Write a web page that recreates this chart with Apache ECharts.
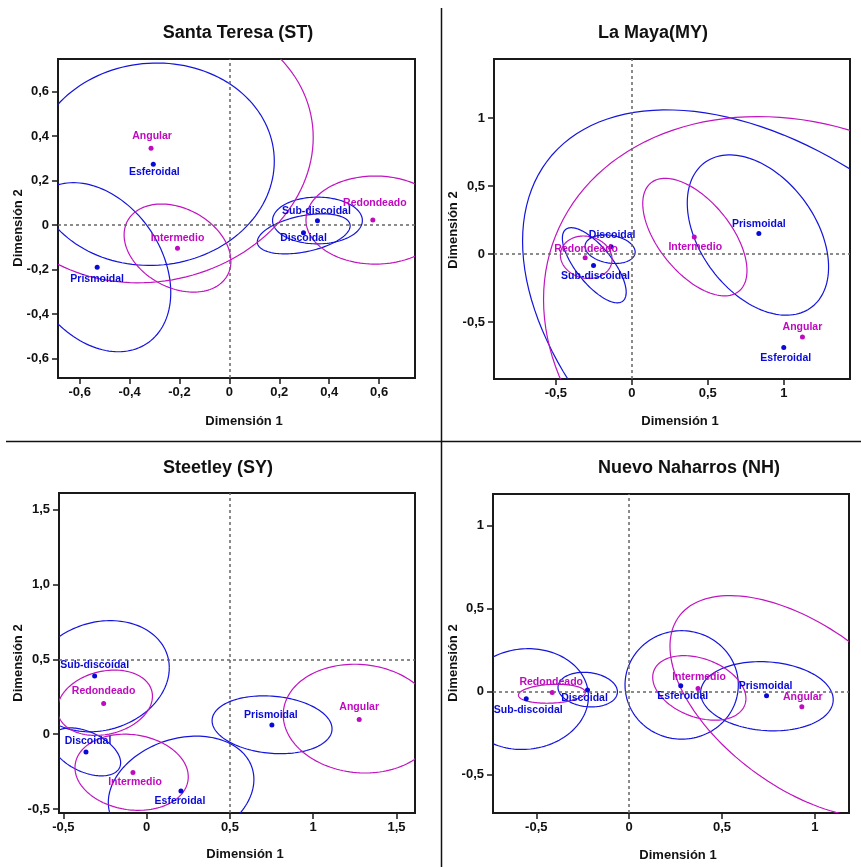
<!DOCTYPE html>
<html>
<head>
<meta charset="utf-8">
<script src="https://cdn.jsdelivr.net/npm/echarts@6/dist/echarts.min.js"></script>
<style>
  html, body { margin: 0; padding: 0; background: #fff; }
  #chart { width: 861px; height: 867px; }
</style>
</head>
<body>
<div id="chart"></div>
<script>
// categorías de forma (azul); las de redondez van en magenta
const blueNames = ['Esferoidal', 'Prismoidal', 'Sub-discoidal', 'Discoidal'];

// Santa Teresa (ST)
const stNames = ['Angular', 'Esferoidal', 'Intermedio', 'Prismoidal', 'Sub-discoidal', 'Discoidal', 'Redondeado'];
const stX = [-0.314, -0.305, -0.208, -0.530, 0.353, 0.297, 0.575];
const stY = [0.345, 0.273, -0.105, -0.190, 0.019, -0.035, 0.022];
// elipses: centro x, centro y, semiancho, semialto, inclinación
const stEll = [
    [-0.314, 0.345, 0.65, 0.605, 0.08],
    [-0.305, 0.273, 0.485, 0.455, 0.03],
    [-0.208, -0.104, 0.214, 0.198, -0.3],
    [-0.535, -0.19, 0.30, 0.38, -0.3],
    [0.353, 0.02, 0.18, 0.105, 0.0],
    [0.298, -0.04, 0.186, 0.09, 0.4],
    [0.585, 0.022, 0.278, 0.198, 0.0]
];

// La Maya (MY)
const myNames = ['Prismoidal', 'Intermedio', 'Angular', 'Esferoidal', 'Discoidal', 'Redondeado', 'Sub-discoidal'];
const myX = [0.836, 0.411, 1.123, 1.0, -0.136, -0.307, -0.252];
const myY = [0.152, 0.125, -0.609, -0.687, 0.054, -0.027, -0.083];
const myEll = [
    [0.83, 0.14, 0.465, 0.589, -0.4],
    [0.415, 0.125, 0.343, 0.432, -0.57],
    [1.123, -0.609, 1.704, 1.62, -0.17],
    [1.0, -0.687, 1.719, 1.747, -0.448],
    [-0.143, 0.036, 0.165, 0.105, -0.2],
    [-0.30, -0.023, 0.17, 0.156, -0.1],
    [-0.247, -0.082, 0.21, 0.276, -0.72]
];

// Steetley (SY)
const syNames = ['Sub-discoidal', 'Redondeado', 'Discoidal', 'Intermedio', 'Esferoidal', 'Prismoidal', 'Angular'];
const syX = [-0.312, -0.258, -0.364, -0.082, 0.206, 0.752, 1.276];
const syY = [0.388, 0.205, -0.118, -0.256, -0.379, 0.062, 0.098];
const syEll = [
    [-0.28, 0.387, 0.416, 0.371, 0.15],
    [-0.25, 0.21, 0.285, 0.218, 0.2],
    [-0.364, -0.118, 0.208, 0.16, -0.45],
    [-0.09, -0.254, 0.34, 0.254, -0.12],
    [0.207, -0.379, 0.437, 0.366, 0.21],
    [0.753, 0.063, 0.36, 0.193, -0.14],
    [1.28, 0.104, 0.46, 0.363, -0.07]
];

// Nuevo Naharros (NH)
const nhNames = ['Sub-discoidal', 'Redondeado', 'Discoidal', 'Esferoidal', 'Intermedio', 'Prismoidal', 'Angular'];
const nhX = [-0.554, -0.414, -0.224, 0.278, 0.371, 0.74, 0.93];
const nhY = [-0.042, -0.004, 0.01, 0.036, 0.02, -0.024, -0.09];
const nhEll = [
    [-0.56, -0.044, 0.341, 0.303, 0.05],
    [-0.416, -0.012, 0.18, 0.057, 0.15],
    [-0.223, 0.013, 0.16, 0.104, -0.13],
    [0.283, 0.041, 0.305, 0.326, 0.0],
    [0.378, 0.023, 0.251, 0.194, -0.33],
    [0.742, -0.027, 0.357, 0.208, -0.1],
    [0.93, -0.09, 0.71, 0.668, -0.545]
];

// marcas de los ejes
const stTicks = [-0.6, -0.4, -0.2, 0, 0.2, 0.4, 0.6];
const stTickLabels = ['-0,6', '-0,4', '-0,2', '0', '0,2', '0,4', '0,6'];
const myTicks = [-0.5, 0, 0.5, 1];
const myTickLabels = ['-0,5', '0', '0,5', '1'];
const syTicks = [-0.5, 0, 0.5, 1, 1.5];
const syXTickLabels = ['-0,5', '0', '0,5', '1', '1,5'];
const syYTickLabels = ['-0,5', '0', '0,5', '1,0', '1,5'];
const nhTicks = [-0.5, 0, 0.5, 1];
const nhTickLabels = ['-0,5', '0', '0,5', '1'];

const BLUE = '#0a0ad8';
const MAGENTA = '#bf0abf';
const FONT = 'Liberation Sans, Arial, sans-serif';

// posición de las etiquetas respecto al punto (px)
const stOffsets = [[1, -12], [1, 8], [0, -10], [0, 12], [-1, -10], [0, 5], [2, -17]];
const myOffsets = [[0, -9], [1, 10], [0, -10], [2, 11], [1, -12], [1, -9], [2, 11]];
const syOffsets = [[0, -11], [0, -12], [2, -11], [2, 10], [-1, 10], [-1, -10], [0, -12]];
const nhOffsets = [[2, 11], [-1, -10], [-3, 8], [2, 10], [1, -11], [-1, -10], [1, -10]];

const panels = [
    { names: stNames, x: stX, y: stY, ell: stEll, off: stOffsets, xr: [-0.687, 0.744], yr: [-0.688, 0.746],
      xt: stTicks, xl: stTickLabels, yt: stTicks, yl: stTickLabels, ref: [0, 0],
      grid: { left: 58, top: 59, width: 357, height: 319 } },
    { names: myNames, x: myX, y: myY, ell: myEll, off: myOffsets, xr: [-0.907, 1.436], yr: [-0.918, 1.434],
      xt: myTicks, xl: myTickLabels, yt: myTicks, yl: myTickLabels, ref: [0, 0],
      grid: { left: 494, top: 59, width: 356, height: 320 } },
    { names: syNames, x: syX, y: syY, ell: syEll, off: syOffsets, xr: [-0.526, 1.611], yr: [-0.526, 1.61],
      xt: syTicks, xl: syXTickLabels, yt: syTicks, yl: syYTickLabels, ref: [0.5, 0.5],
      grid: { left: 59, top: 493, width: 356, height: 320 } },
    { names: nhNames, x: nhX, y: nhY, ell: nhEll, off: nhOffsets, xr: [-0.733, 1.184], yr: [-0.729, 1.189],
      xt: nhTicks, xl: nhTickLabels, yt: nhTicks, yl: nhTickLabels, ref: [0, 0],
      grid: { left: 493, top: 494, width: 356, height: 319 } }
];

function ellipseRenderer(color) {
    return function (params, api) {
        const cx = api.value(0), cy = api.value(1), rx = api.value(2), ry = api.value(3), rho = api.value(4);
        const k = Math.sqrt(1 - rho * rho);
        const pts = [];
        for (let i = 0; i <= 144; i++) {
            const t = i / 144 * 2 * Math.PI;
            pts.push(api.coord([cx + rx * Math.cos(t), cy + ry * (rho * Math.cos(t) + k * Math.sin(t))]));
        }
        return { type: 'polyline', shape: { points: pts }, style: { stroke: color, fill: null, lineWidth: 1.2 } };
    };
}

function tickLabel(ticks, labels) {
    return function (v) {
        const i = ticks.findIndex(t => Math.abs(t - v) < 1e-9);
        return i < 0 ? '' : labels[i];
    };
}

let grids = [], xAxes = [], yAxes = [], series = [];

panels.forEach((p, gi) => {
    grids.push(Object.assign({ show: true, borderColor: '#1a1a1a', borderWidth: 2, backgroundColor: 'transparent' }, p.grid));
    const axisCommon = {
        gridIndex: gi, type: 'value', splitLine: { show: false },
        axisLine: { show: false, onZero: false },
        axisTick: { show: true, length: 6, lineStyle: { color: '#1a1a1a', width: 1.5 } }
    };
    xAxes.push(Object.assign({}, axisCommon, {
        min: p.xr[0], max: p.xr[1],
        axisTick: Object.assign({}, axisCommon.axisTick, { customValues: p.xt }),
        axisLabel: { customValues: p.xt, formatter: tickLabel(p.xt, p.xl), margin: 8, color: '#111', fontWeight: 'bold', fontSize: 13, fontFamily: FONT }
    }));
    yAxes.push(Object.assign({}, axisCommon, {
        min: p.yr[0], max: p.yr[1],
        axisTick: Object.assign({}, axisCommon.axisTick, { customValues: p.yt }),
        axisLabel: { customValues: p.yt, formatter: tickLabel(p.yt, p.yl), margin: 9, color: '#111', fontWeight: 'bold', fontSize: 13, fontFamily: FONT }
    }));

    const blueEll = [], magEll = [], bluePts = [], magPts = [];
    p.names.forEach((n, i) => {
        const isBlue = blueNames.includes(n);
        (isBlue ? blueEll : magEll).push(p.ell[i]);
        (isBlue ? bluePts : magPts).push({ name: n, value: [p.x[i], p.y[i]], label: { offset: p.off[i] } });
    });

    series.push({
        type: 'custom', xAxisIndex: gi, yAxisIndex: gi, clip: true, silent: true,
        renderItem: ellipseRenderer('#1414dc'), data: blueEll, z: 1
    });
    series.push({
        type: 'custom', xAxisIndex: gi, yAxisIndex: gi, clip: true, silent: true,
        renderItem: ellipseRenderer('#c014c0'), data: magEll, z: 1
    });
    [[bluePts, BLUE], [magPts, MAGENTA]].forEach(([pts, col], si) => {
        const s = {
            type: 'scatter', xAxisIndex: gi, yAxisIndex: gi, data: pts, symbolSize: 5,
            itemStyle: { color: col, opacity: 1 }, z: 3, silent: true,
            label: {
                show: true, position: 'inside', formatter: '{b}', color: col, opacity: 1,
                fontWeight: 'bold', fontSize: 10.5, fontFamily: FONT
            }
        };
        if (si === 0) {
            s.markLine = {
                silent: true, symbol: 'none', label: { show: false }, animation: false,
                lineStyle: { type: [3, 3], color: '#666', width: 1.5 },
                data: [{ xAxis: p.ref[0] }, { yAxis: p.ref[1] }]
            };
        }
        series.push(s);
    });
});

const textStyle = (size) => ({ fontSize: size, fontWeight: 'bold', fontFamily: FONT, fill: '#111' });

const titles = [
    ['Santa Teresa (ST)', 238, 33], ['La Maya(MY)', 653, 33],
    ['Steetley (SY)', 218, 468], ['Nuevo Naharros (NH)', 689, 468]
];
const xNames = [[244, 421], [680, 421], [245, 854], [678, 855]];
const yNames = [[18, 228], [453, 230], [18, 663], [453, 663]];

const graphic = [
    { type: 'line', shape: { x1: 441.5, y1: 8, x2: 441.5, y2: 867 }, style: { stroke: '#111', lineWidth: 1.5 } },
    { type: 'line', shape: { x1: 6, y1: 441.5, x2: 861, y2: 441.5 }, style: { stroke: '#111', lineWidth: 1.5 } }
];
titles.forEach(([t, x, y]) => graphic.push({
    type: 'text', x: x, y: y, style: Object.assign(textStyle(18), { text: t, textAlign: 'center', textVerticalAlign: 'middle' })
}));
xNames.forEach(([x, y]) => graphic.push({
    type: 'text', x: x, y: y, style: Object.assign(textStyle(13), { text: 'Dimensión 1', textAlign: 'center', textVerticalAlign: 'middle' })
}));
yNames.forEach(([x, y]) => graphic.push({
    type: 'text', x: x, y: y, rotation: Math.PI / 2,
    style: Object.assign(textStyle(13), { text: 'Dimensión 2', textAlign: 'center', textVerticalAlign: 'middle' })
}));

const chart = echarts.init(document.getElementById('chart'));
chart.setOption({
    animation: false,
    backgroundColor: '#fff',
    textStyle: { fontFamily: FONT },
    grid: grids,
    xAxis: xAxes,
    yAxis: yAxes,
    series: series,
    graphic: graphic
});
</script>
</body>
</html>
